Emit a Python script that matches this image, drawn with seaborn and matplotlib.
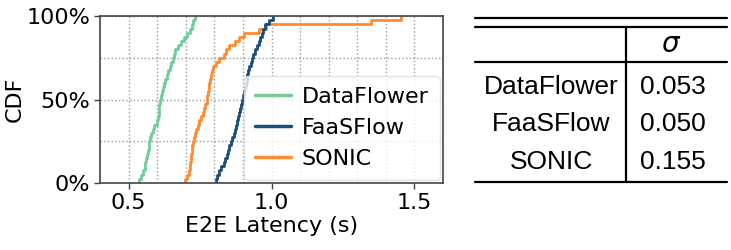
import numpy as np
import pandas as pd
import seaborn as sns
import matplotlib
matplotlib.use("Agg")
import matplotlib.pyplot as plt
from matplotlib.ticker import FixedLocator, PercentFormatter
from matplotlib.lines import Line2D

dataflower = [0.535, 0.545, 0.552, 0.556, 0.559, 0.562, 0.564, 0.567, 0.570, 0.573,
              0.576, 0.579, 0.584, 0.590, 0.598, 0.603, 0.605, 0.606, 0.608, 0.610,
              0.613, 0.616, 0.620, 0.625, 0.629, 0.634, 0.639, 0.645, 0.650, 0.654,
              0.659, 0.664, 0.673, 0.685, 0.693, 0.706, 0.715, 0.722, 0.727, 0.732]
faasflow = [0.807, 0.811, 0.817, 0.825, 0.833, 0.838, 0.843, 0.847, 0.852, 0.858,
            0.863, 0.868, 0.872, 0.875, 0.878, 0.882, 0.885, 0.889, 0.893, 0.898,
            0.901, 0.904, 0.907, 0.910, 0.913, 0.916, 0.919, 0.923, 0.927, 0.932,
            0.937, 0.943, 0.949, 0.956, 0.961, 0.967, 0.972, 0.979, 0.990, 1.005]
sonic = [0.699, 0.704, 0.710, 0.714, 0.716, 0.717, 0.718, 0.721, 0.723, 0.726,
         0.729, 0.732, 0.737, 0.742, 0.748, 0.754, 0.759, 0.765, 0.769, 0.773,
         0.776, 0.778, 0.780, 0.783, 0.785, 0.788, 0.791, 0.797, 0.805, 0.816,
         0.833, 0.842, 0.853, 0.872, 0.887, 0.905, 0.955, 0.982, 1.347, 1.453]

systems = ["DataFlower", "FaaSFlow", "SONIC"]
sigma_values = ["0.053", "0.050", "0.155"]
colors = ["#72cc9a", "#1a4d7a", "#ff8c30"]

x_major = [0.5, 1.0, 1.5]
x_minor = [0.6, 0.7, 0.8, 0.9, 1.1, 1.2, 1.3, 1.4]
y_major = [0, 0.5, 1.0]
y_minor = [0.25, 0.75]

df = pd.DataFrame({
    "latency": dataflower + faasflow + sonic,
    "system": ["DataFlower"] * len(dataflower) + ["FaaSFlow"] * len(faasflow) + ["SONIC"] * len(sonic),
})

sns.set_theme(style="ticks")
plt.rcParams["font.family"] = ["DejaVu Sans"]
plt.rcParams["text.color"] = "black"
plt.rcParams["axes.labelcolor"] = "black"
plt.rcParams["xtick.color"] = "black"
plt.rcParams["ytick.color"] = "black"

fig = plt.figure(figsize=(7.31, 2.5), dpi=100)
ax = fig.add_axes([100 / 731, 1 - 183 / 250, 343 / 731, 167 / 250])

sns.ecdfplot(data=df, x="latency", hue="system", hue_order=systems,
             palette=dict(zip(systems, colors)), linewidth=2, ax=ax, legend=False)

ax.set_xlim(0.4, 1.6)
ax.set_ylim(0, 1)
ax.xaxis.set_major_locator(FixedLocator(x_major))
ax.xaxis.set_minor_locator(FixedLocator(x_minor))
ax.yaxis.set_major_locator(FixedLocator(y_major))
ax.yaxis.set_minor_locator(FixedLocator(y_minor))
ax.yaxis.set_major_formatter(PercentFormatter(1.0, decimals=0))
ax.set_xticklabels(["0.5", "1.0", "1.5"])
ax.tick_params(axis="both", which="major", labelsize=16, length=4, width=1,
               color="#444444", labelcolor="black", pad=3)
ax.tick_params(axis="both", which="minor", length=0)
ax.grid(True, which="both", linestyle=":", color="#999999", linewidth=1)
ax.set_axisbelow(True)
for s in ax.spines.values():
    s.set_color("#444444")
    s.set_linewidth(1.2)
ax.set_xlabel("E2E Latency (s)", fontsize=16, labelpad=2, color="black")
ax.set_ylabel("CDF", fontsize=16, color="black")
ax.yaxis.set_label_coords(-0.22, 0.5)

handles = [Line2D([0], [0], color=c, lw=2.5) for c in colors]
leg = ax.legend(handles, systems, loc="lower right", fontsize=16, frameon=True,
                handlelength=1.6, handletextpad=0.5, borderpad=0.5, labelspacing=0.49,
                bbox_to_anchor=(1.0, 0.0), borderaxespad=0.15, labelcolor="black")
leg.get_frame().set_edgecolor("#dddddd")
leg.get_frame().set_linewidth(1)

# ---- table on the right ----
W, H = 731.0, 250.0
def fx(px): return px / W
def fy(py): return 1 - py / H

tfont = dict(family=["Liberation Sans", "DejaVu Sans"], fontsize=19, color="black")
for yy in (18.3, 26.7, 61.7, 181.7):
    fig.add_artist(Line2D([fx(475), fx(727)], [fy(yy), fy(yy)], color="black", lw=1.6,
                          transform=fig.transFigure))
fig.add_artist(Line2D([fx(625.7), fx(625.7)], [fy(26.7), fy(181.7)], color="black", lw=1.6,
                      transform=fig.transFigure))
fig.text(fx(671), fy(44.5), r"$\sigma$", ha="center", va="center", fontsize=20,
         family=["DejaVu Sans"], color="black")
row_y = [86.5, 124, 162]
for name, val, yy in zip(systems, sigma_values, row_y):
    fig.text(fx(551), fy(yy), name, ha="center", va="center", **tfont)
    fig.text(fx(673), fy(yy), val, ha="center", va="center", **tfont)

fig.savefig("out.png", dpi=100)
